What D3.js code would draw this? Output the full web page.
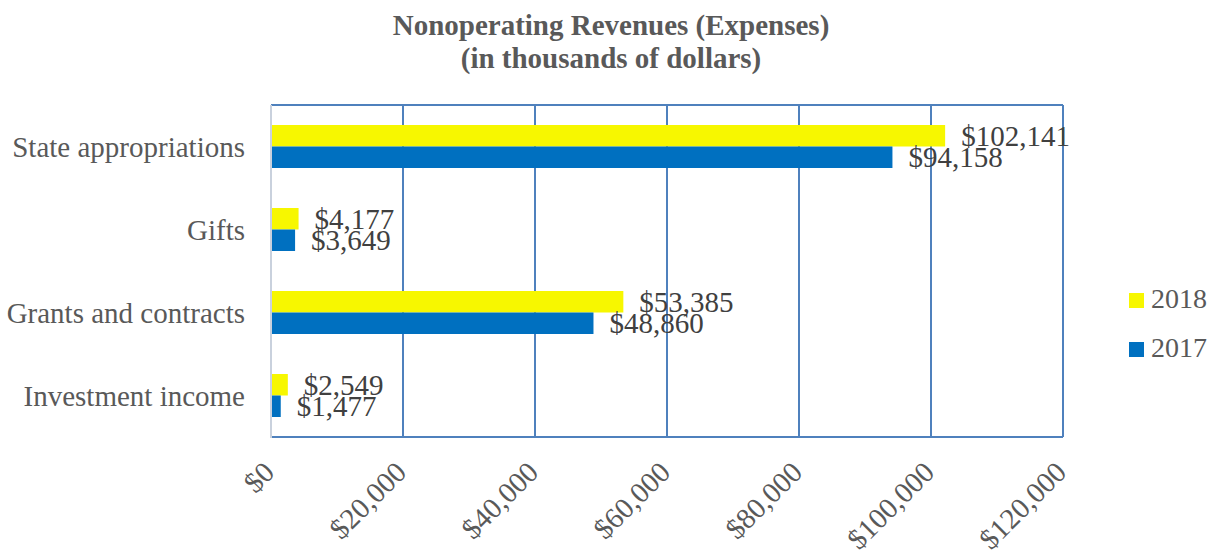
<!DOCTYPE html>
<html>
<head>
<meta charset="utf-8">
<script src="https://cdn.jsdelivr.net/npm/d3@7"></script>
<style>
  body { margin: 0; background: #fff; }
  text { font-family: "Liberation Serif", "Times New Roman", serif; }
</style>
</head>
<body>
<div id="chart"></div>
<script>
// data
var categories = ["State appropriations", "Gifts", "Grants and contracts", "Investment income"];
var years = ["2018", "2017"];
var values2018 = [102141, 4177, 53385, 2549];
var values2017 = [94158, 3649, 48860, 1477];
var xTicks = [0, 20000, 40000, 60000, 80000, 100000, 120000];

var w = 1215, h = 550;
var plotLeft = 271, plotRight = 1063, plotTop = 105, plotBottom = 437;
var colors = { "2018": "#F7F700", "2017": "#0070C0" };

var svg = d3.select("#chart").append("svg")
    .attr("width", w)
    .attr("height", h);

var xScale = d3.scaleLinear().domain([0, 120000]).range([plotLeft, plotRight]);
var yScale = d3.scaleBand().domain(categories).range([plotTop, plotBottom])
    .paddingInner(0.482).paddingOuter(0.241);
var yInner = d3.scaleBand().domain(years).range([0, yScale.bandwidth()]);

var rows = categories.map(function(c, i) {
    return { cat: c, "2018": values2018[i], "2017": values2017[i] };
});

// title
svg.append("text").attr("x", 611).attr("y", 35).attr("text-anchor", "middle")
    .attr("font-size", 29).attr("font-weight", "bold").attr("fill", "#595959")
    .text("Nonoperating Revenues (Expenses)");
svg.append("text").attr("x", 611).attr("y", 68).attr("text-anchor", "middle")
    .attr("font-size", 29).attr("font-weight", "bold").attr("fill", "#595959")
    .text("(in thousands of dollars)");

// gridlines
svg.append("g").selectAll("line")
    .data(xTicks)
    .enter().append("line")
    .attr("x1", function(d) { return xScale(d); })
    .attr("x2", function(d) { return xScale(d); })
    .attr("y1", plotTop).attr("y2", plotBottom)
    .attr("stroke", "#4F81BD").attr("stroke-width", 2);

// top/bottom border
svg.append("line").attr("x1", plotLeft).attr("x2", plotRight).attr("y1", plotTop).attr("y2", plotTop)
    .attr("stroke", "#4F81BD").attr("stroke-width", 2);
svg.append("line").attr("x1", plotLeft).attr("x2", plotRight).attr("y1", plotBottom).attr("y2", plotBottom)
    .attr("stroke", "#4F81BD").attr("stroke-width", 2);

// bars
var groups = svg.append("g").selectAll("g")
    .data(rows)
    .enter().append("g")
    .attr("transform", function(d) { return "translate(0," + yScale(d.cat) + ")"; });

groups.selectAll("rect")
    .data(function(d) { return years.map(function(y) { return { year: y, value: d[y] }; }); })
    .enter().append("rect")
    .attr("x", xScale(0))
    .attr("y", function(d) { return yInner(d.year); })
    .attr("width", function(d) { return xScale(d.value) - xScale(0); })
    .attr("height", yInner.bandwidth())
    .attr("fill", function(d) { return colors[d.year]; });

// left axis line (light)
svg.append("line").attr("x1", plotLeft).attr("x2", plotLeft).attr("y1", plotTop).attr("y2", plotBottom + 1)
    .attr("stroke", "#C9D1DD").attr("stroke-width", 2);

// value labels
groups.selectAll("text.val")
    .data(function(d) { return years.map(function(y) { return { year: y, value: d[y] }; }); })
    .enter().append("text")
    .attr("class", "val")
    .attr("x", function(d) { return xScale(d.value) + 16; })
    .attr("y", function(d) { return yInner(d.year) + yInner.bandwidth() - 1; })
    .attr("font-size", 29)
    .attr("fill", "#404040")
    .text(function(d) { return "$" + d3.format(",")(d.value); });

// category labels
svg.append("g").selectAll("text")
    .data(categories)
    .enter().append("text")
    .attr("x", 245)
    .attr("y", function(d) { return yScale(d) + yScale.bandwidth() / 2; })
    .attr("dy", "0.35em")
    .attr("text-anchor", "end")
    .attr("font-size", 29)
    .attr("fill", "#595959")
    .text(function(d) { return d; });

// x tick labels rotated
svg.append("g").selectAll("text")
    .data(xTicks)
    .enter().append("text")
    .attr("transform", function(d) { return "translate(" + (xScale(d) + 5) + ",474) rotate(-45)"; })
    .attr("text-anchor", "end")
    .attr("font-size", 29)
    .attr("fill", "#595959")
    .text(function(d) { return "$" + d3.format(",")(d); });

// legend
var legend = svg.append("g").selectAll("g")
    .data(years)
    .enter().append("g")
    .attr("transform", function(d, i) { return "translate(1129," + (293 + i * 49) + ")"; });
legend.append("rect").attr("width", 15).attr("height", 15)
    .attr("fill", function(d) { return colors[d]; });
legend.append("text").attr("x", 22).attr("y", 15)
    .attr("font-size", 28).attr("fill", "#595959")
    .text(function(d) { return d; });
</script>
</body>
</html>
